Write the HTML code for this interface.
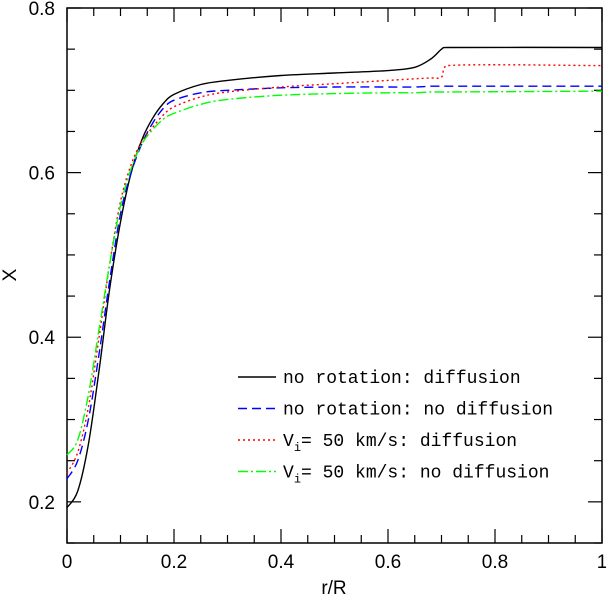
<!DOCTYPE html>
<html><head><meta charset="utf-8"><style>
body{margin:0;background:#fff}
svg{display:block}
text{font-family:"Liberation Sans",sans-serif;fill:#000}
text.leg{font-family:"Liberation Mono",monospace}
</style></head><body>
<svg id="c" width="606" height="601"></svg>
<script>
const xs=[0,0.02,0.04,0.06,0.08,0.1,0.12,0.14,0.16,0.18,0.2,0.25,0.3,0.4,0.5,0.6,0.65,0.68,0.7,0.71,1];
const blackY=[0.193,0.213,0.27,0.36,0.46,0.54,0.6,0.64,0.666,0.684,0.695,0.707,0.712,0.718,0.721,0.724,0.728,0.738,0.75,0.752,0.752];
const blueY=[0.228,0.25,0.3,0.38,0.47,0.55,0.6,0.635,0.66,0.678,0.688,0.697,0.7,0.703,0.704,0.704,0.704,0.705,0.705,0.705,0.705];
const redY=[0.235,0.26,0.315,0.4,0.49,0.565,0.61,0.638,0.655,0.67,0.68,0.692,0.698,0.704,0.708,0.712,0.714,0.715,0.716,0.73,0.73];
const greenY=[0.257,0.275,0.33,0.41,0.49,0.56,0.605,0.635,0.652,0.665,0.672,0.683,0.689,0.694,0.696,0.697,0.697,0.698,0.698,0.698,0.699];
const xTicks=[0,0.2,0.4,0.6,0.8,1];
const xTickLabels=["0","0.2","0.4","0.6","0.8","1"];
const yTicks=[0.2,0.4,0.6,0.8];
const yTickLabels=["0.2","0.4","0.6","0.8"];
const seriesNames=["no rotation: diffusion","no rotation: no diffusion","V= 50 km/s: diffusion","V= 50 km/s: no diffusion"];

const NS="http://www.w3.org/2000/svg",svg=document.getElementById('c');
const L=67,R=602,T=8,B=543,x0=0,x1=1,y0=0.15,y1=0.8;
const X=v=>L+(v-x0)/(x1-x0)*(R-L), Y=v=>B-(v-y0)/(y1-y0)*(B-T);
function mk(t,a,p){const e=document.createElementNS(NS,t);for(const k in a)e.setAttribute(k,a[k]);(p||svg).appendChild(e);return e;}
const frame=mk('rect',{x:L,y:T,width:R-L,height:B-T,fill:'none',stroke:'#000','stroke-width':1.5});


for(let i=0;i<=20;i++){const v=i*0.05,px=X(v),len=(i%4==0)?14:8;
 const t1=mk('line',{x1:px,x2:px,y1:B,y2:B-len,stroke:'#000','stroke-width':1.2});
 
 const t2=mk('line',{x1:px,x2:px,y1:T,y2:T+len,stroke:'#000','stroke-width':1.2});
 }
for(let i=0;i<=13;i++){const v=0.15+i*0.05,py=Y(v),len=(Math.round(v*100)%20==0)?14:8;
 const t1=mk('line',{x1:L,x2:L+len,y1:py,y2:py,stroke:'#000','stroke-width':1.2});
 
 const t2=mk('line',{x1:R,x2:R-len,y1:py,y2:py,stroke:'#000','stroke-width':1.2});
 }
xTicks.forEach((v,i)=>{const t=mk('text',{x:X(v),y:568,'font-size':19,'text-anchor':'middle'});t.textContent=xTickLabels[i];
 });
yTicks.forEach((v,i)=>{const t=mk('text',{x:55,y:Y(v)+7,'font-size':19,'text-anchor':'end'});t.textContent=yTickLabels[i];
 });
const xt=mk('text',{x:334,y:594,'font-size':19,'text-anchor':'middle'});xt.textContent='r/R';

const yt=mk('text',{x:16,y:275,'font-size':19,'text-anchor':'middle',transform:'rotate(-90 16 275)'});yt.textContent='X';

const styles=[{c:'#000',d:''},{c:'#0000ff',d:'9,5'},{c:'#ff0000',d:'2,3'},{c:'#00ff00',d:'10,3,2,3'}];
function smooth(pts){let d='M'+pts[0][0].toFixed(1)+','+pts[0][1].toFixed(1);
 for(let i=0;i<pts.length-1;i++){const p0=pts[Math.max(0,i-1)],p1=pts[i],p2=pts[i+1],p3=pts[Math.min(pts.length-1,i+2)];
  const k=1/6;
  const c1=[p1[0]+(p2[0]-p0[0])*k,p1[1]+(p2[1]-p0[1])*k],c2=[p2[0]-(p3[0]-p1[0])*k,p2[1]-(p3[1]-p1[1])*k];
  c1[0]=Math.min(Math.max(c1[0],p1[0]),p2[0]);c2[0]=Math.min(Math.max(c2[0],p1[0]),p2[0]);
  d+='C'+c1[0].toFixed(1)+','+c1[1].toFixed(1)+' '+c2[0].toFixed(1)+','+c2[1].toFixed(1)+' '+p2[0].toFixed(1)+','+p2[1].toFixed(1);}
 return d;}
[blackY,blueY,redY,greenY].forEach((ys,s)=>{
 const pts=xs.map((x,i)=>[X(x),Y(ys[i])]);
 const p=mk('path',{d:smooth(pts),fill:'none',stroke:styles[s].c,'stroke-width':1.4,'stroke-dasharray':styles[s].d,'stroke-linejoin':'round'});
 
 
 const ly=377+s*31.5;
 const g=mk('g',{});
 
 
 mk('line',{x1:238,x2:276,y1:ly,y2:ly,stroke:styles[s].c,'stroke-width':1.4,'stroke-dasharray':styles[s].d},g);
 const t=mk('text',{x:283,y:ly+6,'font-size':18,'class':'leg'},g);
 if(s<2){t.textContent=seriesNames[s];}
 else{t.textContent='V';const sub=mk('tspan',{'font-size':12,dy:5},t);sub.textContent='i';
  const rest=mk('tspan',{dy:-5},t);rest.textContent=seriesNames[s].slice(1);}
});
</script>
</body></html>
